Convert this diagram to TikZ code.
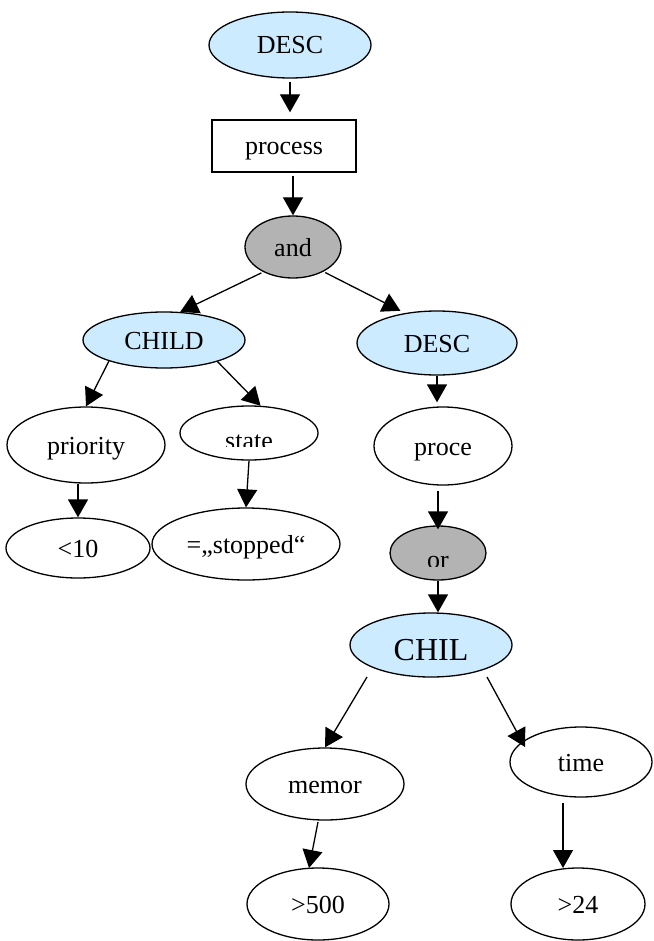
\documentclass[tikz,border=0pt]{standalone}
\usepackage{fontspec}
\setmainfont{Liberation Serif}
\usetikzlibrary{shapes.geometric,arrows.meta,calc}
\definecolor{qblue}{RGB}{204,235,255}
\definecolor{opgray}{RGB}{179,179,179}
\begin{document}
\begin{tikzpicture}[x=1pt,y=-1pt,
  nd/.style={ellipse,draw,line width=1.3pt,inner sep=0pt,
    font=\fontsize{26}{26}\selectfont,text height=20pt,text depth=2pt},
  qnode/.style={nd,fill=qblue},
  opnode/.style={nd,fill=opgray},
  sz/.style 2 args={minimum width=#1pt,minimum height=#2pt},
  lbl/.style={inner sep=0pt,anchor=base,font=\fontsize{26}{26}\selectfont},
  link/.style={-{Triangle[length=18pt,width=20pt]},line width=1.3pt}]
\useasboundingbox (0,0) rectangle (653,941);

% query nodes
\node[qnode,sz={162}{66}] (desc1) at (290,45) {DESC};
\node[draw,line width=1.3pt,minimum width=144pt,minimum height=52pt,inner sep=0pt,
  font=\fontsize{26}{26}\selectfont,text height=20pt,text depth=2pt] (process) at (284,146) {process};
\node[opnode,sz={96}{62}] (and) at (293,247) {and};
\node[qnode,sz={162}{56}] (child) at (164,340) {CHILD};
\node[qnode,sz={160}{64}] (desc2) at (437,343) {DESC};
\node[nd,sz={158}{76}] (priority) at (86,445) {priority};
\node[nd,sz={138}{54}] (state) at (249,433) {};
\node[nd,sz={144}{60}] (lt10) at (78,548) {<10};
\node[nd,sz={188}{72}] (stopped) at (246,544) {=„stopped“};
\node[nd,sz={138}{78}] (proce) at (443,446) {proce};
\node[opnode,sz={96}{54}] (or) at (438,553) {};
\node[qnode,sz={162}{64},font=\fontsize{32}{32}\selectfont,text height=30pt,text depth=0pt] (chil) at (431,645) {CHIL};
\node[nd,sz={158}{72}] (memor) at (325,784) {memor};
\node[nd,sz={142}{70}] (time) at (581,762) {time};
\node[nd,sz={142}{72}] (gt500) at (318,904) {>500};
\node[nd,sz={134}{72}] (gt24) at (578,904) {>24};

% labels whose lower edge is cut off
\begin{scope}
  \clip (180,420) rectangle (318,446);
  \node[lbl] (statetext) at (249,449) {state};
\end{scope}
\begin{scope}
  \clip (390,540) rectangle (487,566.5);
  \node[lbl] (ortext) at (438,568) {or};
\end{scope}

% connectors
\draw[link,shorten <=3pt,shorten >=7pt] (desc1.south) -- (desc1.south |- process.north);
\draw[link,shorten <=3pt] (and.north |- process.south) -- (and.north);
\draw[link,shorten <=2pt] (and.220) -- (child.60);
\draw[link,shorten <=2pt,shorten >=5pt] (and.-39) -- (desc2.137);
\draw[link] (child.201) -- (priority.north);
\draw[link] (child.-22) -- (state.67);
\draw[link] (lt10.north |- priority.south) -- (lt10.north);
\draw[link] (state.south) -- (stopped.north);
\draw[link,shorten >=4pt] (desc2.south) -- (desc2.south |- proce.north);
\draw[link,shorten <=5pt,shorten >=-4pt] (or.north |- proce.south) -- (or.north);
\draw[link] (or.south) -- (or.south |- chil.north);
\draw[link] ($(chil)+(-64,32)$) -- (memor.north);
\draw[link] ($(chil)+(56,32)$) -- ($(time)+(-56,-15)$);
\draw[link] ($(memor)+(-7,38)$) -- ($(gt500)+(-9,-36)$);
\draw[link] ($(time)+(-18,41)$) -- ($(gt24)+(-15,-36)$);
\end{tikzpicture}
\end{document}
